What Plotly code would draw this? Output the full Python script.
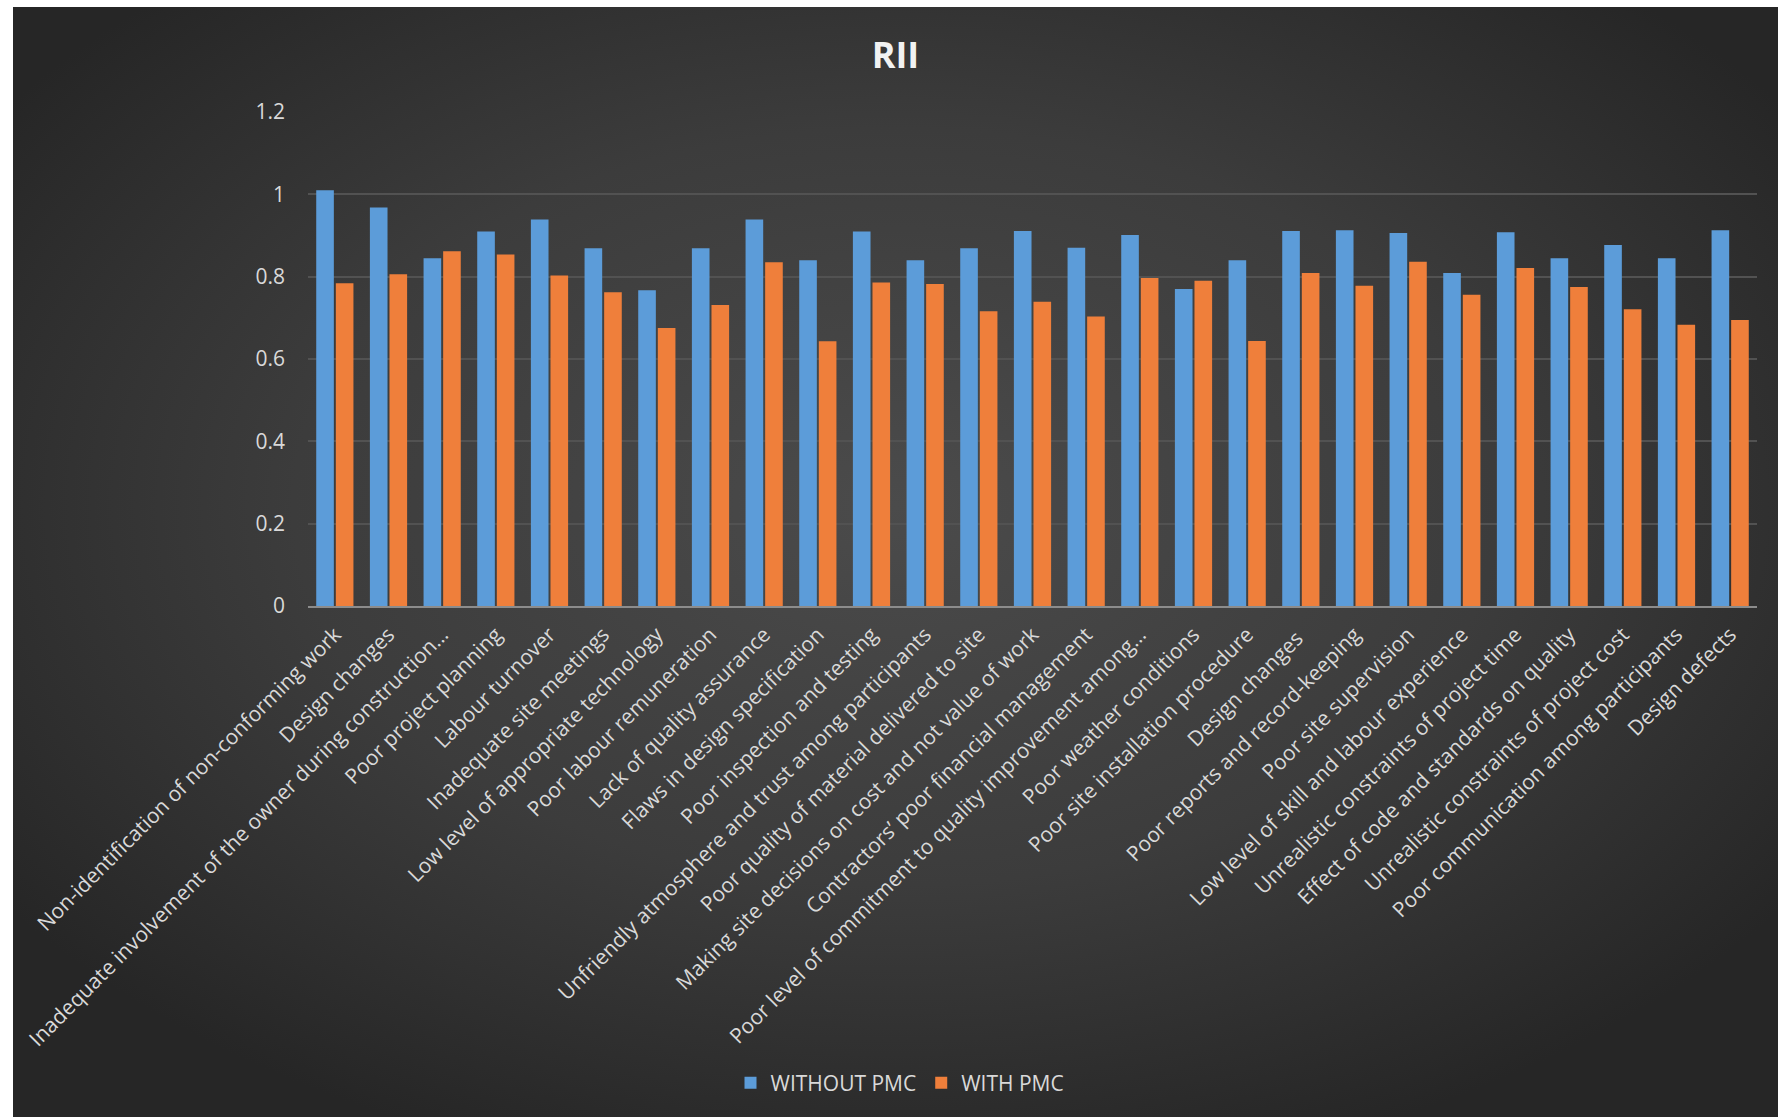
import base64
import plotly.graph_objects as go

categories = [
    "Non-identification of non-conforming work",
    "Design changes",
    "Inadequate involvement of the owner during construction…",
    "Poor project planning",
    "Labour turnover",
    "Inadequate site meetings",
    "Low level of appropriate technology",
    "Poor labour remuneration",
    "Lack of quality assurance",
    "Flaws in design specification",
    "Poor inspection and testing",
    "Unfriendly atmosphere and trust among participants",
    "Poor quality of material delivered to site",
    "Making site decisions on cost and not value of work",
    "Contractors’ poor financial management",
    "Poor level of commitment to quality improvement among…",
    "Poor weather conditions",
    "Poor site installation procedure",
    "Design changes ",
    "Poor reports and record-keeping",
    "Poor site supervision",
    "Low level of skill and labour experience",
    "Unrealistic constraints of project time",
    "Effect of code and standards on quality",
    "Unrealistic constraints of project cost",
    "Poor communication among participants",
    "Design defects",
]

without_pmc = [1.010, 0.968, 0.845, 0.910, 0.939, 0.869, 0.767, 0.869, 0.939, 0.840,
               0.910, 0.840, 0.869, 0.911, 0.870, 0.901, 0.770, 0.840, 0.911, 0.913,
               0.906, 0.809, 0.908, 0.845, 0.877, 0.845, 0.913]
with_pmc = [0.784, 0.806, 0.862, 0.854, 0.803, 0.762, 0.675, 0.731, 0.835, 0.643,
            0.786, 0.782, 0.716, 0.739, 0.703, 0.797, 0.790, 0.644, 0.809, 0.778,
            0.836, 0.756, 0.821, 0.775, 0.721, 0.683, 0.695]

y_ticks = [0, 0.2, 0.4, 0.6, 0.8, 1, 1.2]
y_ticktext = ["0", "0.2", "0.4", "0.6", "0.8", "1", "1.2"]

W, H = 1778, 1117
L, R, T, B = 308, 21, 112, 511
PW, PH = W - L - R, H - T - B

svg = f'''<svg xmlns="http://www.w3.org/2000/svg" width="1765" height="1110" viewBox="0 0 1765 1110" preserveAspectRatio="none">
<defs><radialGradient id="g" cx="0.5" cy="0.45" r="0.62" gradientUnits="objectBoundingBox">
<stop offset="0" stop-color="#4b4b4b"/><stop offset="0.55" stop-color="#3c3c3c"/><stop offset="1" stop-color="#262626"/>
</radialGradient></defs>
<rect x="0" y="0" width="1765" height="1110" fill="url(#g)"/></svg>'''
src = "data:image/svg+xml;base64," + base64.b64encode(svg.encode()).decode()

font = "Open Sans, Segoe UI, sans-serif"

fig = go.Figure()
fig.add_trace(go.Bar(name="WITHOUT PMC", x=categories, y=without_pmc,
                     marker=dict(color="#5c9cd9", line=dict(width=0))))
fig.add_trace(go.Bar(name="WITH PMC", x=categories, y=with_pmc,
                     marker=dict(color="#ef7f3b", line=dict(width=0))))

fig.add_layout_image(dict(
    source=src, xref="paper", yref="paper",
    x=(13 - L) / PW, y=(H - B - 7) / PH,
    sizex=(W - 13) / PW, sizey=(H - 7) / PH,
    sizing="stretch", xanchor="left", yanchor="top", layer="below", opacity=1,
))

legend_cx = 900
fig.update_layout(
    width=W, height=H,
    margin=dict(l=L, r=R, t=T, b=B),
    paper_bgcolor="white",
    plot_bgcolor="rgba(0,0,0,0)",
    barmode="group", bargap=0.27, bargroupgap=0.1,
    title=dict(text="<b>RII</b>", x=(13 + (W - 13) / 2) / W, xanchor="center",
               y=1 - 55 / H, yanchor="middle",
               font=dict(family=font, size=36, color="#f2f2f2")),
    showlegend=True,
    legend=dict(orientation="h", x=(legend_cx - L) / PW, xanchor="center",
                y=-(1083 - (H - B)) / PH, yanchor="middle",
                font=dict(family=font, size=21, color="#d9d9d9"),
                bgcolor="rgba(0,0,0,0)", itemwidth=30, tracegroupgap=0),
    font=dict(family=font, color="#d9d9d9"),
)
fig.update_xaxes(
    tickangle=-45, tickfont=dict(family=font, size=21, color="#d9d9d9"),
    showgrid=False, showline=True, linecolor="#8c8c8c", linewidth=2,
    ticks="", automargin=False, ticklabelstandoff=6,
)
fig.update_yaxes(
    range=[0, 1.2], tickvals=y_ticks, ticktext=y_ticktext,
    tickfont=dict(family=font, size=21, color="#d9d9d9"),
    showgrid=True, gridcolor="#525252", gridwidth=1.5,
    zeroline=False, showline=False, ticks="", ticklabelstandoff=22, automargin=False,
)

fig.write_html("out.html")
